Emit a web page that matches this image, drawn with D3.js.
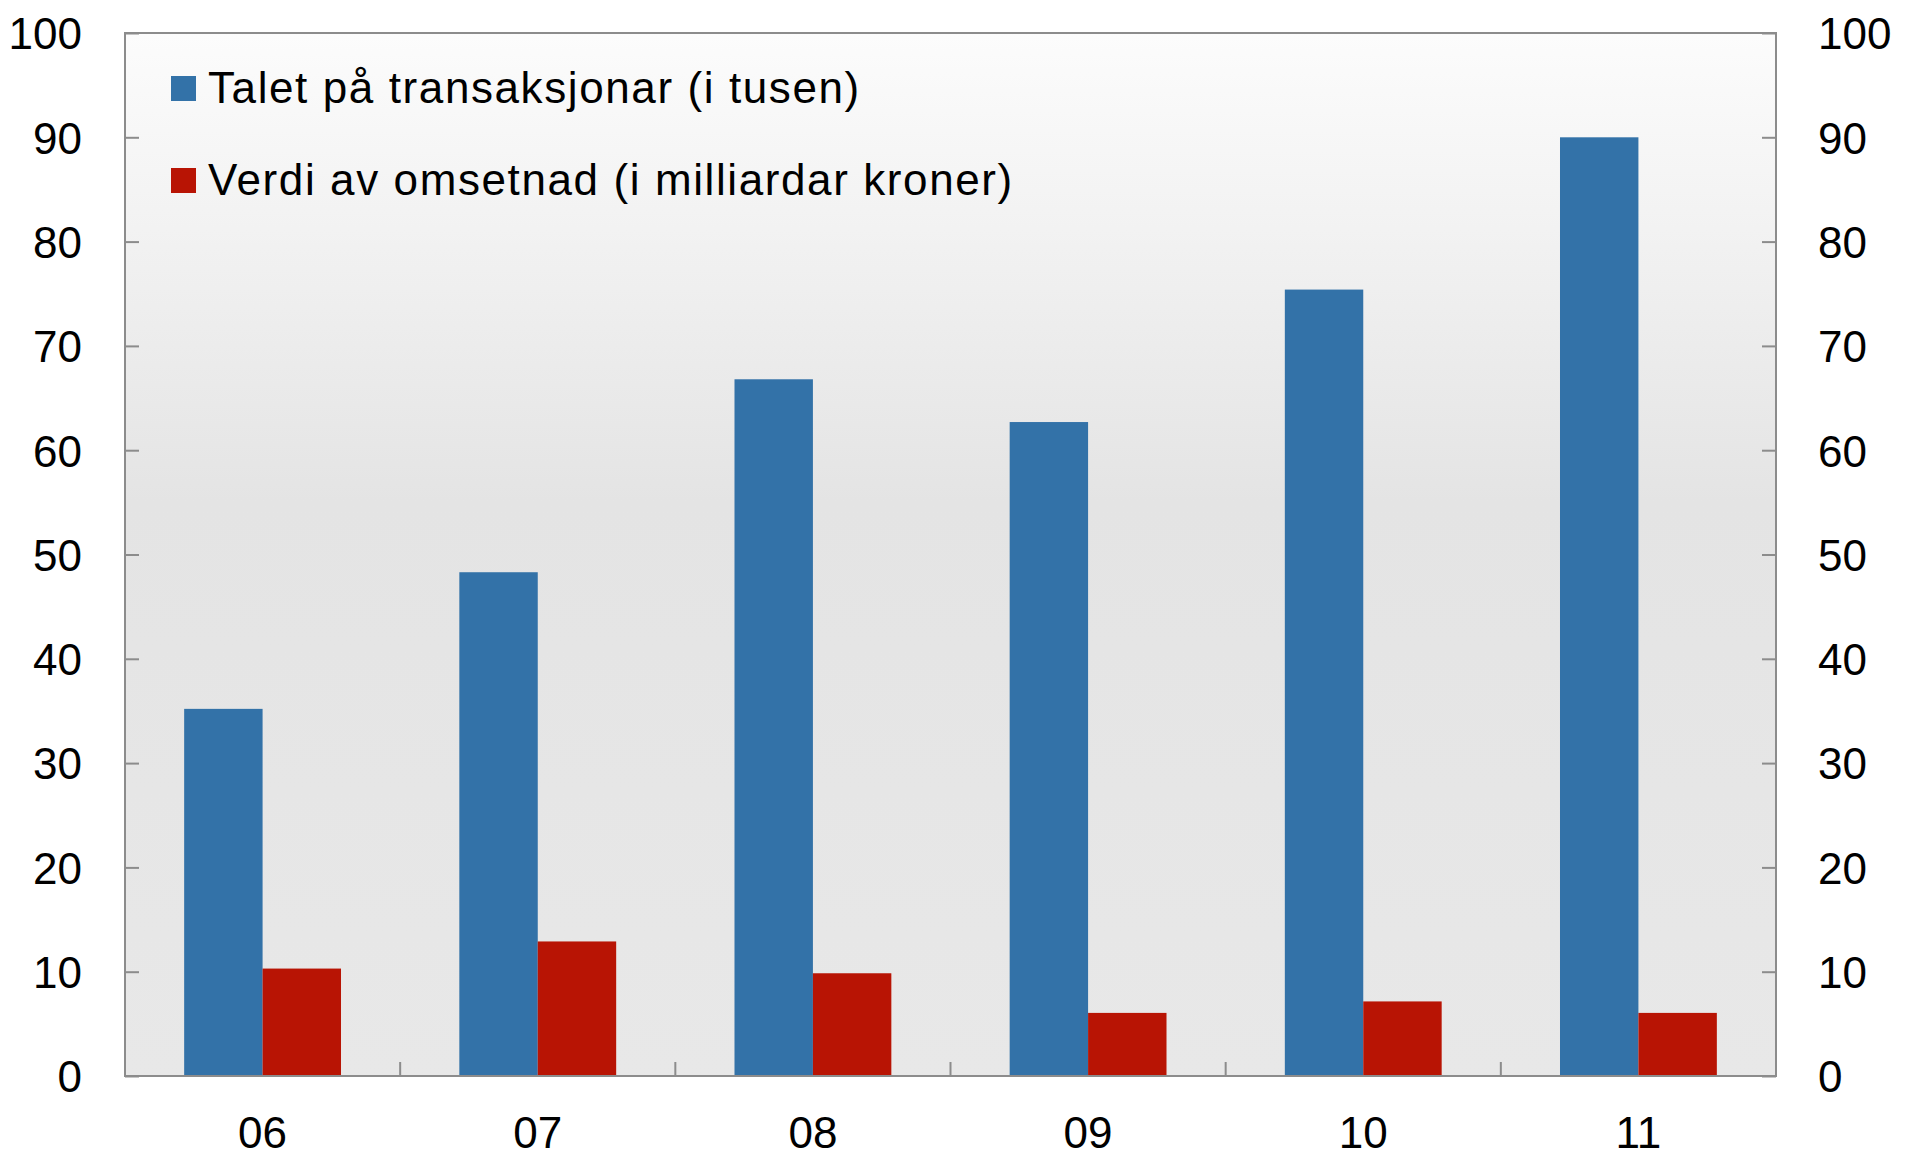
<!DOCTYPE html>
<html>
<head>
<meta charset="utf-8">
<script src="https://cdn.jsdelivr.net/npm/d3@7"></script>
<style>
  body { margin: 0; background: #fff; }
  svg { display: block; font-family: "Liberation Sans", Arial, sans-serif; }
</style>
</head>
<body>
<svg id="chart"></svg>
<script>
const years = ["06", "07", "08", "09", "10", "11"];
const transaksjonar = [35.2, 48.3, 66.8, 62.7, 75.4, 90.0];
const omsetnad = [10.3, 12.9, 9.85, 6.05, 7.15, 6.05];
const seriesNames = ["Talet på transaksjonar (i tusen)", "Verdi av omsetnad (i milliardar kroner)"];
const seriesColors = ["#3372a8", "#b81404"];
const yTicks = [0, 10, 20, 30, 40, 50, 60, 70, 80, 90, 100];

const width = 1905, height = 1156;
const margin = {top: 33, right: 129, bottom: 80, left: 125};
const innerW = width - margin.left - margin.right;
const innerH = height - margin.top - margin.bottom;

const svg = d3.select("#chart")
    .attr("width", width)
    .attr("height", height);

const defs = svg.append("defs");
const grad = defs.append("linearGradient")
    .attr("id", "bg")
    .attr("x1", 0).attr("y1", 0).attr("x2", 0).attr("y2", 1);
grad.append("stop").attr("offset", "0%").attr("stop-color", "#fcfcfc");
grad.append("stop").attr("offset", "45%").attr("stop-color", "#e4e4e4");
grad.append("stop").attr("offset", "100%").attr("stop-color", "#e8e8e8");

const g = svg.append("g")
    .attr("transform", `translate(${margin.left},${margin.top})`);

g.append("rect")
    .attr("width", innerW)
    .attr("height", innerH)
    .attr("fill", "url(#bg)");

const x0 = d3.scaleBand()
    .domain(years)
    .range([0, innerW]);

const x1 = d3.scaleBand()
    .domain([0, 1])
    .range([0, x0.bandwidth() * 0.57]);

const y = d3.scaleLinear()
    .domain([0, 100])
    .range([innerH, 0]);

const rows = years.map((yr, i) => ({year: yr, values: [transaksjonar[i], omsetnad[i]]}));

const offset = (x0.bandwidth() - x1.range()[1]) / 2;

const group = g.selectAll("g.year")
    .data(rows)
    .enter()
    .append("g")
    .attr("transform", d => `translate(${x0(d.year) + offset},0)`);

group.selectAll("rect")
    .data(d => d.values.map((v, k) => ({k, v})))
    .enter()
    .append("rect")
    .attr("x", d => x1(d.k))
    .attr("width", x1.bandwidth())
    .attr("y", d => y(d.v))
    .attr("height", d => innerH - y(d.v))
    .attr("fill", d => seriesColors[d.k]);

// axes
const axisColor = "#8c8c8c";
const styleAxis = sel => {
    sel.select(".domain").remove();
    sel.selectAll(".tick line").attr("stroke", axisColor).attr("stroke-width", 2);
    sel.selectAll(".tick text")
        .attr("fill", "#000")
        .attr("font-size", "44px")
        .attr("font-family", "Liberation Sans, Arial, sans-serif");
};

g.append("g")
    .call(d3.axisLeft(y).tickValues(yTicks).tickSize(-14).tickPadding(43))
    .call(styleAxis)
    .selectAll(".tick text").attr("dy", "0.36em");

g.append("g")
    .attr("transform", `translate(${innerW},0)`)
    .call(d3.axisRight(y).tickValues(yTicks).tickSize(-14).tickPadding(42))
    .call(styleAxis)
    .selectAll(".tick text").attr("dy", "0.36em");

// x boundary ticks between categories
g.append("g")
    .selectAll("line")
    .data(years.slice(1))
    .enter()
    .append("line")
    .attr("x1", d => x0(d))
    .attr("x2", d => x0(d))
    .attr("y1", innerH)
    .attr("y2", innerH - 14)
    .attr("stroke", axisColor)
    .attr("stroke-width", 2);

g.append("g")
    .selectAll("text")
    .data(years)
    .enter()
    .append("text")
    .attr("x", d => x0(d) + x0.bandwidth() / 2)
    .attr("y", innerH + 72)
    .attr("text-anchor", "middle")
    .attr("font-size", "44px")
    .text(d => d);

// frame
g.append("rect")
    .attr("width", innerW)
    .attr("height", innerH)
    .attr("fill", "none")
    .attr("stroke", axisColor)
    .attr("stroke-width", 2);

// legend
const legend = svg.append("g")
    .selectAll("g")
    .data(seriesNames)
    .enter()
    .append("g")
    .attr("transform", (d, i) => `translate(171,${76 + i * 92})`);

legend.append("rect")
    .attr("width", 25)
    .attr("height", 25)
    .attr("fill", (d, i) => seriesColors[i]);

legend.append("text")
    .attr("x", 37)
    .attr("y", 27)
    .attr("font-size", "44px")
    .attr("letter-spacing", "1.6px")
    .attr("fill", "#000")
    .text(d => d);
</script>
</body>
</html>
